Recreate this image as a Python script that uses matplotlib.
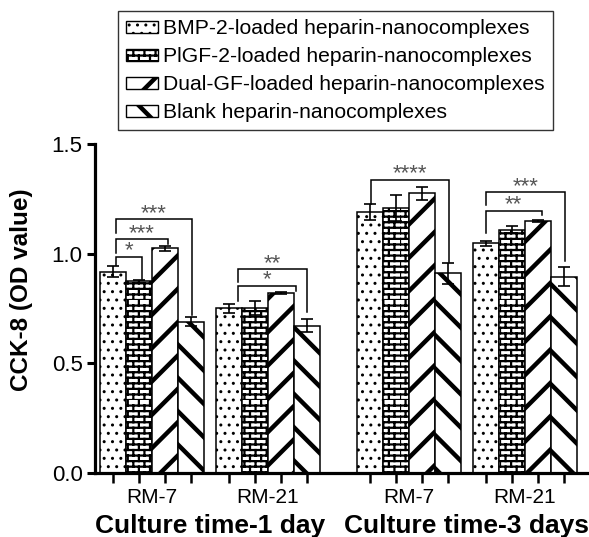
import warnings
import numpy as np
import matplotlib
matplotlib.use("Agg")
import matplotlib.pyplot as plt
from matplotlib import hatch as mhatch
from matplotlib.path import Path
from matplotlib.patches import Patch

warnings.filterwarnings("ignore")

# data
groups = ["RM-7", "RM-21", "RM-7", "RM-21"]
day_labels = ["Culture time-1 day", "Culture time-3 days"]
series = [
    "BMP-2-loaded heparin-nanocomplexes",
    "PlGF-2-loaded heparin-nanocomplexes",
    "Dual-GF-loaded heparin-nanocomplexes",
    "Blank heparin-nanocomplexes",
]
bmp = [0.918, 0.750, 1.190, 1.047]
plgf = [0.873, 0.752, 1.207, 1.110]
dual = [1.025, 0.820, 1.276, 1.148]
blank = [0.690, 0.670, 0.910, 0.895]
bmp_err = [0.026, 0.022, 0.035, 0.012]
plgf_err = [0.006, 0.032, 0.060, 0.016]
dual_err = [0.011, 0.006, 0.030, 0.005]
blank_err = [0.020, 0.030, 0.048, 0.042]

# significance brackets: group, left leg, right leg (bar index units), height,
# left leg bottom, right leg bottom, label
brackets = [
    (0, 0.12, 1.12, 0.986, 0.950, 0.885, "*"),
    (0, 0.12, 2.12, 1.066, 1.005, 1.045, "***"),
    (0, 0.12, 3.04, 1.157, 1.093, 0.720, "***"),
    (1, 0.35, 2.58, 0.854, 0.785, 0.831, "*"),
    (1, 0.35, 3.00, 0.929, 0.872, 0.735, "**"),
    (2, 0.03, 3.04, 1.336, 1.226, 0.963, "****"),
    (3, 0.00, 2.15, 1.196, 1.093, 1.177, "**"),
    (3, 0.00, 3.04, 1.279, 1.220, 0.968, "***"),
]


class BrickHatch(mhatch.HatchPatternBase):
    """Brick wall hatch, triggered by 'b' in the hatch string."""

    def __init__(self, hatch, density):
        n = hatch.count("b")
        self.rows = int(3 * density) if n else 0
        self.cols = int(1.5 * density) if n else 0
        self.num_vertices = (self.rows + self.rows * self.cols) * 2

    def set_vertices_and_codes(self, vertices, codes):
        rows, cols = self.rows, self.cols
        h = 1.0 / rows
        k = 0
        for r in range(rows):
            y = r * h
            vertices[k] = (0.0, y)
            vertices[k + 1] = (1.0, y)
            k += 2
        for r in range(rows):
            y0 = r * h
            off = 0.5 / cols if r % 2 else 0.0
            for c in range(cols):
                x = c / cols + off
                vertices[k] = (x, y0)
                vertices[k + 1] = (x, y0 + h)
                k += 2
        codes[0::2] = Path.MOVETO
        codes[1::2] = Path.LINETO


mhatch._hatch_types.append(BrickHatch)

plt.rcParams["font.family"] = ["Liberation Sans", "DejaVu Sans"]

means = [bmp, plgf, dual, blank]
errs = [bmp_err, plgf_err, dual_err, blank_err]
hatches = ["..", "b", "/", "\\"]
hatch_lw = [1.0, 1.6, 3.2, 3.2]

group_start = np.array([0.0, 4.48, 9.92, 14.4])

fig = plt.figure(figsize=(5.89, 5.37), dpi=100)
ax = fig.add_axes([0.1613, 0.1197, 0.837, 0.612])

for i in range(4):
    xs = group_start + i
    bars = ax.bar(xs, means[i], width=1.0, facecolor="white", edgecolor="black",
                  linewidth=1.1, hatch=hatches[i], zorder=2)
    for b in bars:
        if hasattr(b, "set_hatch_linewidth"):
            b.set_hatch_linewidth(hatch_lw[i])
    ax.errorbar(xs, means[i], yerr=errs[i], fmt="none", ecolor="black",
                elinewidth=1.2, capsize=4.3, capthick=1.2, zorder=3)

for g, l, r, y, lb, rb, lab in brackets:
    xl = group_start[g] + l
    xr = group_start[g] + r
    ax.plot([xl, xl, xr, xr], [lb, y, y, rb], color="black", lw=1.1,
            solid_joinstyle="miter", zorder=4)
    ax.annotate(lab, xy=((xl + xr) / 2, y), xytext=(0, 0.3),
                textcoords="offset points", ha="center", va="baseline",
                fontsize=16, color="#555555", zorder=4)

ax.set_xlim(-0.695, 18.34)
ax.set_ylim(0, 1.5)
ax.set_yticks([0.0, 0.5, 1.0, 1.5])
ax.set_yticklabels(["0.0", "0.5", "1.0", "1.5"])
ticks = np.concatenate([group_start + i for i in range(4)])
ax.set_xticks(ticks)
ax.set_xticklabels([])
for g in range(4):
    ax.text(group_start[g] + 1.5, -0.068, groups[g], ha="center", va="top",
            fontsize=15, transform=ax.transData)
for d in range(2):
    xc = (group_start[2 * d] + group_start[2 * d + 1] + 3) / 2
    ax.text(xc, -0.162, day_labels[d], ha="center", va="center", fontsize=19,
            fontweight="bold", transform=ax.get_xaxis_transform())

ax.tick_params(axis="x", length=7.2, width=1.8, direction="out")
ax.tick_params(axis="y", length=6, width=2.2, pad=3.0, labelsize=16)
for s in ["top", "right"]:
    ax.spines[s].set_visible(False)
for s in ["left", "bottom"]:
    ax.spines[s].set_linewidth(2.3)

ax.set_ylabel("CCK-8 (OD value)", fontsize=17.5, fontweight="bold")
ax.yaxis.set_label_coords(-0.126, 0.556)

handles = [Patch(facecolor="white", edgecolor="black", hatch=h, linewidth=1.0)
           for h in hatches]
leg = fig.legend(handles, series, loc="upper left",
                 bbox_to_anchor=(118 / 589, 1 - 11 / 537), borderaxespad=0,
                 fontsize=15.2, frameon=True, fancybox=False, edgecolor="black",
                 handlelength=1.5, handleheight=0.5, handletextpad=0.25,
                 labelspacing=0.42, borderpad=0.4)
leg.get_frame().set_linewidth(1.0)
for p, lw in zip(leg.legend_handles, hatch_lw):
    if hasattr(p, "set_hatch_linewidth"):
        p.set_hatch_linewidth(lw)

fig.savefig("out.png", dpi=100)
